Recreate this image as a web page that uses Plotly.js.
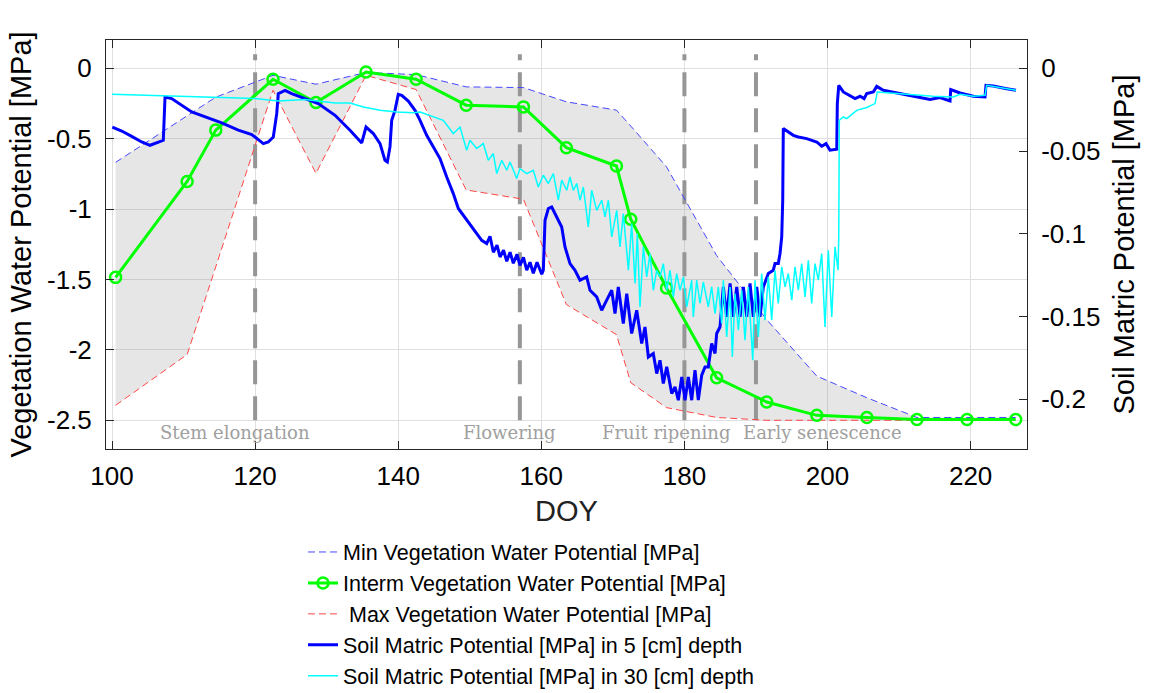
<!DOCTYPE html>
<html>
<head>
<meta charset="utf-8">
<script src="https://cdn.plot.ly/plotly-3.0.1.min.js"></script>
<style>html,body{margin:0;padding:0;background:#fff;}#chart{width:1150px;height:693px;}</style>
</head>
<body>
<div id="chart"></div>
<script>
// ---- Vegetation water potential (left axis) ----
const vegDoy    = [100.5,110.5,114.5,122.5,128.5,135.5,142.5,149.5,157.5,163.5,170.5,172.5,177.5,184.5,191.5,198.5,205.5,212.5,219.5,226.3];
const vegMin    = [-0.668,-0.34,-0.205,-0.05,-0.113,-0.03,-0.045,-0.132,-0.137,-0.238,-0.297,-0.41,-0.70,-1.33,-1.785,-2.186,-2.34,-2.48,-2.48,-2.48];
const vegInterm = [-1.485,-0.804,-0.439,-0.078,-0.243,-0.026,-0.078,-0.262,-0.274,-0.564,-0.694,-1.072,-1.56,-2.198,-2.37,-2.465,-2.48,-2.495,-2.495,-2.495];
const vegMax    = [-2.394,-2.033,-1.41,-0.156,-0.746,-0.05,-0.151,-0.864,-0.93,-1.678,-1.891,-2.233,-2.41,-2.48,-2.5,-2.5,-2.5,-2.5,-2.5,-2.5];

// ---- Soil matric potential, 5 cm depth (right axis) ----
const soil5Doy = [100.04,101.36,102.75,104.15,105.31,106.47,107.17,107.41,108.34,111.14,113.0,115.33,117.65,119.53,120.45,121.15,121.84,122.54,123.02,123.24,124.18,125.11,126.97,128.83,131.17,131.87,133.26,134.90,135.50,136.52,137.46,138.15,138.48,138.85,139.09,139.55,140.01,140.49,141.41,142.35,143.05,143.98,144.91,145.84,146.78,147.70,148.40,149.57,150.50,151.67,152.37,152.83,153.30,153.81,154.23,154.72,155.17,155.63,156.09,156.60,157.02,157.51,157.96,158.42,158.88,159.40,160.06,160.28,160.52,160.98,161.45,162.15,162.85,163.31,164.01,164.71,165.41,166.34,166.81,167.74,168.44,169.14,169.84,170.30,170.76,171.46,171.94,172.63,173.33,174.03,174.49,174.96,175.65,176.13,176.59,177.05,177.53,178.23,178.69,179.15,179.63,180.09,180.55,181.02,181.48,181.94,182.42,182.88,183.34,183.81,184.28,184.51,184.97,185.44,185.91,186.38,186.84,187.31,187.78,188.24,188.71,189.17,189.63,190.11,190.57,191.03,191.73,192.42,192.66,193.12,193.36,193.60,193.74,193.82,194.76,195.22,195.92,197.09,198.49,199.19,199.79,200.35,201.29,201.37,201.57,202.21,203.85,204.55,205.11,205.48,206.40,206.88,207.80,211.07,214.33,215.72,217.12,217.22,218.52,220.38,222.01,222.15,223.17,225.04,226.34];
const soil5Val = [-0.0355,-0.0379,-0.0411,-0.0445,-0.0465,-0.0445,-0.0435,-0.0173,-0.0183,-0.0264,-0.0294,-0.0330,-0.0374,-0.0400,-0.0431,-0.0455,-0.0445,-0.0415,-0.0274,-0.0153,-0.0133,-0.0153,-0.0183,-0.0213,-0.0284,-0.0314,-0.0374,-0.0451,-0.0355,-0.0394,-0.0455,-0.0556,-0.0566,-0.0475,-0.0314,-0.0254,-0.0157,-0.0163,-0.0198,-0.0254,-0.0314,-0.0405,-0.0475,-0.0545,-0.0657,-0.0757,-0.0847,-0.0918,-0.0968,-0.1039,-0.1059,-0.1015,-0.1111,-0.1069,-0.1140,-0.1099,-0.1166,-0.1111,-0.1178,-0.1124,-0.1190,-0.1142,-0.1220,-0.1172,-0.1238,-0.1172,-0.1244,-0.1220,-0.0918,-0.0847,-0.0838,-0.0898,-0.0959,-0.1079,-0.1180,-0.1220,-0.1280,-0.1260,-0.1341,-0.1381,-0.1462,-0.1401,-0.1341,-0.1482,-0.1321,-0.1542,-0.1361,-0.1602,-0.1462,-0.1663,-0.1563,-0.1744,-0.1723,-0.1844,-0.1764,-0.1904,-0.1804,-0.1965,-0.1925,-0.2005,-0.1865,-0.2005,-0.1865,-0.2005,-0.1824,-0.2005,-0.1854,-0.1804,-0.1804,-0.1663,-0.1723,-0.1602,-0.1563,-0.1321,-0.1502,-0.1300,-0.1502,-0.1321,-0.1502,-0.1321,-0.1502,-0.1300,-0.1502,-0.1321,-0.1502,-0.1321,-0.1240,-0.1220,-0.1180,-0.1180,-0.1119,-0.1019,-0.0797,-0.0364,-0.0394,-0.0405,-0.0415,-0.0425,-0.0445,-0.0471,-0.0455,-0.0495,-0.0489,-0.0213,-0.0103,-0.0143,-0.0183,-0.0169,-0.0183,-0.0153,-0.0143,-0.0109,-0.0133,-0.0163,-0.0189,-0.0177,-0.0197,-0.0129,-0.0149,-0.0169,-0.0173,-0.0103,-0.0107,-0.0123,-0.0133];

// ---- Soil matric potential, 30 cm depth (right axis) ----
const soil30Doy = [100.0,108.34,113.0,119.99,123.24,126.97,131.17,133.26,135.12,137.46,139.79,142.11,143.05,144.91,146.30,147.70,148.64,149.57,150.03,150.97,151.89,152.59,153.29,153.77,154.47,155.17,155.63,156.56,157.02,157.96,158.88,159.58,160.28,160.98,161.68,162.38,162.85,163.55,164.01,164.47,164.95,165.41,165.87,166.57,167.04,167.74,168.44,168.90,169.37,169.84,170.54,171.0,171.46,172.17,172.63,173.10,173.42,173.79,174.26,174.73,175.19,175.65,176.13,176.59,177.05,177.53,177.99,178.45,178.92,179.39,179.85,180.32,181.02,181.24,181.72,182.18,182.64,183.34,183.81,184.28,184.74,185.21,185.44,185.91,186.38,186.70,187.07,187.54,188.01,188.47,188.93,189.55,189.87,190.33,190.80,191.26,191.73,192.20,192.66,193.12,193.60,194.06,194.52,195.0,195.46,195.92,196.39,196.86,197.32,197.79,198.25,198.71,199.19,199.65,200.11,200.59,201.05,201.47,201.57,201.65,202.21,202.68,203.60,204.08,205.48,206.64,206.96,208.74,212.47,214.79,217.59,218.52,220.38,222.01,222.25,225.04,226.34];
const soil30Val = [-0.0157,-0.0169,-0.0173,-0.0183,-0.0198,-0.0189,-0.0210,-0.0210,-0.0234,-0.0254,-0.0264,-0.0268,-0.0264,-0.0294,-0.0314,-0.0394,-0.0355,-0.0495,-0.0435,-0.0485,-0.0455,-0.0556,-0.0515,-0.0636,-0.0556,-0.0616,-0.0566,-0.0666,-0.0606,-0.0636,-0.0616,-0.0717,-0.0646,-0.0696,-0.0636,-0.0797,-0.0676,-0.0737,-0.0657,-0.0737,-0.0696,-0.0797,-0.0717,-0.0959,-0.0737,-0.0858,-0.0797,-0.0898,-0.0797,-0.1019,-0.0858,-0.1079,-0.0878,-0.1220,-0.0938,-0.1300,-0.0998,-0.1442,-0.1079,-0.1260,-0.1119,-0.1341,-0.1220,-0.1260,-0.1180,-0.1341,-0.1220,-0.1381,-0.1240,-0.1341,-0.1260,-0.1442,-0.1280,-0.1502,-0.1280,-0.1421,-0.1291,-0.1442,-0.1321,-0.1482,-0.1321,-0.1542,-0.1280,-0.1623,-0.1321,-0.1744,-0.1361,-0.1582,-0.1341,-0.1643,-0.1321,-0.1764,-0.1280,-0.1623,-0.1240,-0.1522,-0.1260,-0.1522,-0.1220,-0.1421,-0.1200,-0.1321,-0.1240,-0.1401,-0.1200,-0.1341,-0.1180,-0.1381,-0.1160,-0.1421,-0.1180,-0.1280,-0.1119,-0.1563,-0.1099,-0.1502,-0.1079,-0.1220,-0.1019,-0.0314,-0.0294,-0.0304,-0.0274,-0.0254,-0.0237,-0.0213,-0.0143,-0.0149,-0.0163,-0.0169,-0.0173,-0.0157,-0.0169,-0.0163,-0.0103,-0.0123,-0.0133];

// ---- Phenological phases ----
const phaseDoy      = [120, 157, 180, 190];
const phaseLabels   = ["Stem elongation", "Flowering", "Fruit ripening", "Early senescence"];
const phaseLabelDoy = [106.4, 148.8, 168.2, 187.9];
const phaseLabelY   = -2.59;
const phaseLineY    = [-2.5, 0.1];

// ---- Axes ----
const xTicks  = [100, 120, 140, 160, 180, 200, 220];
const yTicks  = [0, -0.5, -1, -1.5, -2, -2.5];
const yLabels = ["0", "-0.5", "-1", "-1.5", "-2", "-2.5"];
const y2Ticks  = [0, -0.05, -0.1, -0.15, -0.2];
const y2Labels = ["0", "-0.05", "-0.1", "-0.15", "-0.2"];

const FONT = '"Liberation Sans", Arial, Helvetica, sans-serif';
const AX = '#262626';

const traces = [];
// gray band between min and max vegetation water potential
traces.push({
  x: vegDoy.concat(vegDoy.slice().reverse()),
  y: vegMin.concat(vegMax.slice().reverse()),
  type: 'scatter', mode: 'lines', fill: 'toself',
  fillcolor: 'rgba(128,128,128,0.2)', line: {width: 0, color: 'rgba(0,0,0,0)'},
  hoverinfo: 'skip', showlegend: false
});
// phase lines
phaseDoy.forEach(function (d) {
  traces.push({
    x: [d, d], y: phaseLineY, type: 'scatter', mode: 'lines',
    line: {color: 'rgb(150,150,150)', width: 4, dash: '24px,12px'},
    hoverinfo: 'skip', showlegend: false
  });
});
traces.push({
  name: 'Min Vegetation Water Potential [MPa]', x: vegDoy, y: vegMin,
  type: 'scatter', mode: 'lines', legendrank: 1,
  line: {color: 'rgb(70,70,255)', width: 1, dash: '7px,4px'}
});
traces.push({
  name: ' Max Vegetation Water Potential [MPa]', x: vegDoy, y: vegMax,
  type: 'scatter', mode: 'lines', legendrank: 3,
  line: {color: 'rgb(255,70,70)', width: 1, dash: '7px,4px'}
});
traces.push({
  name: 'Interm Vegetation Water Potential [MPa]', x: vegDoy, y: vegInterm,
  type: 'scatter', mode: 'lines+markers', legendrank: 2,
  line: {color: '#00ff00', width: 3},
  marker: {symbol: 'circle-open', size: 11, color: '#00ff00', line: {width: 2.5, color: '#00ff00'}}
});
traces.push({
  name: 'Soil Matric Potential [MPa] in 5 [cm] depth', x: soil5Doy, y: soil5Val,
  type: 'scatter', mode: 'lines', yaxis: 'y2', legendrank: 4,
  line: {color: '#0000ff', width: 3}
});
traces.push({
  name: 'Soil Matric Potential [MPa] in 30 [cm] depth', x: soil30Doy, y: soil30Val,
  type: 'scatter', mode: 'lines', yaxis: 'y2', legendrank: 5,
  line: {color: '#00ffff', width: 1.5}
});

const annotations = phaseLabels.map(function (t, i) {
  return {
    x: phaseLabelDoy[i], y: phaseLabelY, xref: 'x', yref: 'y', text: t,
    showarrow: false, xanchor: 'left', yanchor: 'middle',
    font: {family: '"DejaVu Serif", "Liberation Serif", serif', size: 18, color: 'rgb(160,160,160)'}
  };
});

const layout = {
  width: 1150, height: 693,
  margin: {l: 106, r: 123, t: 40, b: 244, autoexpand: false},
  paper_bgcolor: '#ffffff', plot_bgcolor: '#ffffff',
  font: {family: FONT, color: '#000'},
  showlegend: true,
  legend: {
    x: 0.2139, y: -0.2017, xanchor: 'left', yanchor: 'top',
    font: {family: FONT, size: 21.5, color: '#000'},
    bgcolor: 'rgba(0,0,0,0)', borderwidth: 0, traceorder: 'normal'
  },
  xaxis: {
    range: [99.16, 227.88], tickvals: xTicks, ticktext: xTicks.map(String),
    ticks: 'inside', ticklen: 8, tickcolor: AX, tickwidth: 1,
    showline: true, linecolor: AX, linewidth: 1, mirror: 'ticks',
    showgrid: true, gridcolor: 'rgb(223,223,223)', gridwidth: 1, zeroline: false,
    tickfont: {size: 26, color: '#000'}, ticklabelstandoff: 4,
    title: {text: 'DOY', font: {size: 29, color: '#222'}, standoff: 10}
  },
  yaxis: {
    range: [-2.704, 0.201], tickvals: yTicks, ticktext: yLabels,
    ticks: 'inside', ticklen: 8, tickcolor: AX, tickwidth: 1,
    showline: true, linecolor: AX, linewidth: 1,
    showgrid: true, gridcolor: 'rgb(223,223,223)', gridwidth: 1, zeroline: false,
    tickfont: {size: 26, color: '#000'}, ticklabelstandoff: 8,
    title: {text: 'Vegetation Water Potential [MPa]', font: {size: 29, color: '#000'}, standoff: 6}
  },
  yaxis2: {
    overlaying: 'y', side: 'right',
    range: [-0.2300, 0.0171], tickvals: y2Ticks, ticktext: y2Labels,
    ticks: 'inside', ticklen: 8, tickcolor: AX, tickwidth: 1,
    showline: true, linecolor: AX, linewidth: 1,
    showgrid: false, zeroline: false,
    tickfont: {size: 26, color: '#000'}, ticklabelstandoff: 8,
    title: {text: 'Soil Matric Potential [MPa]', font: {size: 29, color: '#000'}, standoff: 14}
  },
  annotations: annotations
};

Plotly.newPlot('chart', traces, layout, {displayModeBar: false, staticPlot: true});
</script>
</body>
</html>
